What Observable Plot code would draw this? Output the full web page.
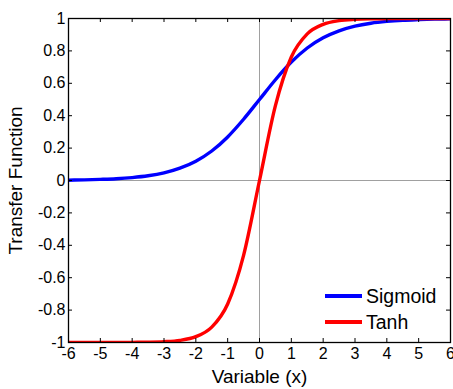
<!DOCTYPE html>
<html>
<head>
<meta charset="utf-8">
<script src="https://cdn.jsdelivr.net/npm/d3@7"></script>
<script src="https://cdn.jsdelivr.net/npm/@observablehq/plot@0.6"></script>
<style>
  html, body { margin: 0; padding: 0; background: #fff; }
  #wrap { position: relative; width: 453px; height: 389px; font-family: "Liberation Sans", Arial, sans-serif; }
  #wrap svg g[aria-label="x-axis tick label"] text,
  #wrap svg g[aria-label="y-axis tick label"] text { font-size: 16px; }
  #wrap svg g[aria-label="x-axis label"] text,
  #wrap svg g[aria-label="y-axis label"] text { font-size: 19px; }
  .leg { position: absolute; left: 325px; display: flex; align-items: center; font-size: 19.5px; color: #000; }
  .leg span.sw { display: inline-block; width: 37px; height: 4px; margin-right: 4px; }
</style>
</head>
<body>
<div id="wrap"></div>
<script>
const xs = [-6,-5.5,-5,-4.5,-4,-3.5,-3,-2.5,-2,-1.5,-1,-0.5,0,0.5,1,1.5,2,2.5,3,3.5,4,4.5,5,5.5,6];
const sigmoid = [0.002,0.004,0.007,0.011,0.018,0.029,0.047,0.076,0.119,0.182,0.269,0.378,0.5,0.622,0.731,0.818,0.881,0.924,0.953,0.971,0.982,0.989,0.993,0.996,0.998];
const tanh = [-1,-1,-1,-1,-0.999,-0.998,-0.995,-0.987,-0.964,-0.905,-0.762,-0.462,0,0.462,0.762,0.905,0.964,0.987,0.995,0.998,0.999,1,1,1,1];
const xTicks = [-6,-5,-4,-3,-2,-1,0,1,2,3,4,5,6];
const yTicks = [-1,-0.8,-0.6,-0.4,-0.2,0,0.2,0.4,0.6,0.8,1];
const seriesNames = ["Sigmoid", "Tanh"];
const seriesColors = ["#0000ff", "#ff0000"];

const rows = [];
xs.forEach((x, i) => {
  rows.push({series: "Sigmoid", x, y: sigmoid[i]});
  rows.push({series: "Tanh", x, y: tanh[i]});
});

const W = 453, H = 389;
const mt = 18, mb = 47, ml = 68, mr = 3;
const ph = H - mt - mb, pw = W - ml - mr;
const tk = 4;

const chart = Plot.plot({
  width: W, height: H,
  marginTop: mt, marginBottom: mb, marginLeft: ml, marginRight: mr,
  style: {fontFamily: "'Liberation Sans', Arial, sans-serif", fontSize: "16px", color: "#000", background: "#fff"},
  x: {domain: [-6, 6], ticks: xTicks, tickFormat: d => String(d), label: "Variable (x)", labelAnchor: "center", labelArrow: "none"},
  y: {domain: [-1, 1], ticks: yTicks, tickFormat: d => String(d), label: "Transfer Function", labelAnchor: "center", labelArrow: "none"},
  color: {domain: seriesNames, range: seriesColors},
  marks: [
    Plot.ruleX([0], {stroke: "#a0a0a0", strokeWidth: 1}),
    Plot.ruleY([0], {stroke: "#a0a0a0", strokeWidth: 1}),
    Plot.line(rows, {x: "x", y: "y", z: "series", stroke: "series", strokeWidth: 3.4, curve: "monotone-x", clip: true}),
    Plot.tickX(xTicks, {x: d => d, insetTop: ph - tk, stroke: "#000"}),
    Plot.tickX(xTicks, {x: d => d, insetBottom: ph - tk, stroke: "#000"}),
    Plot.tickY(yTicks, {y: d => d, insetRight: pw - tk, stroke: "#000"}),
    Plot.tickY(yTicks, {y: d => d, insetLeft: pw - tk, stroke: "#000"}),
    Plot.axisX({ticks: xTicks, tickFormat: d => String(d), tickSize: 0, tickPadding: 5, label: "Variable (x)", labelAnchor: "center", labelOffset: 40, labelArrow: "none"}),
    Plot.axisY({ticks: yTicks, tickFormat: d => String(d), tickSize: 0, tickPadding: 3, label: "Transfer Function", labelAnchor: "center", labelOffset: 60, labelArrow: "none"}),
    Plot.frame({stroke: "#000", strokeWidth: 1.3})
  ]
});

const wrap = document.getElementById("wrap");
wrap.appendChild(chart);
const legTops = [296, 322];
seriesNames.forEach((name, i) => {
  const d = document.createElement("div");
  d.className = "leg";
  d.style.top = (legTops[i] - 11) + "px";
  d.style.height = "22px";
  d.innerHTML = `<span class="sw" style="background:${seriesColors[i]}"></span><span>${name}</span>`;
  wrap.appendChild(d);
});
</script>
</body>
</html>
